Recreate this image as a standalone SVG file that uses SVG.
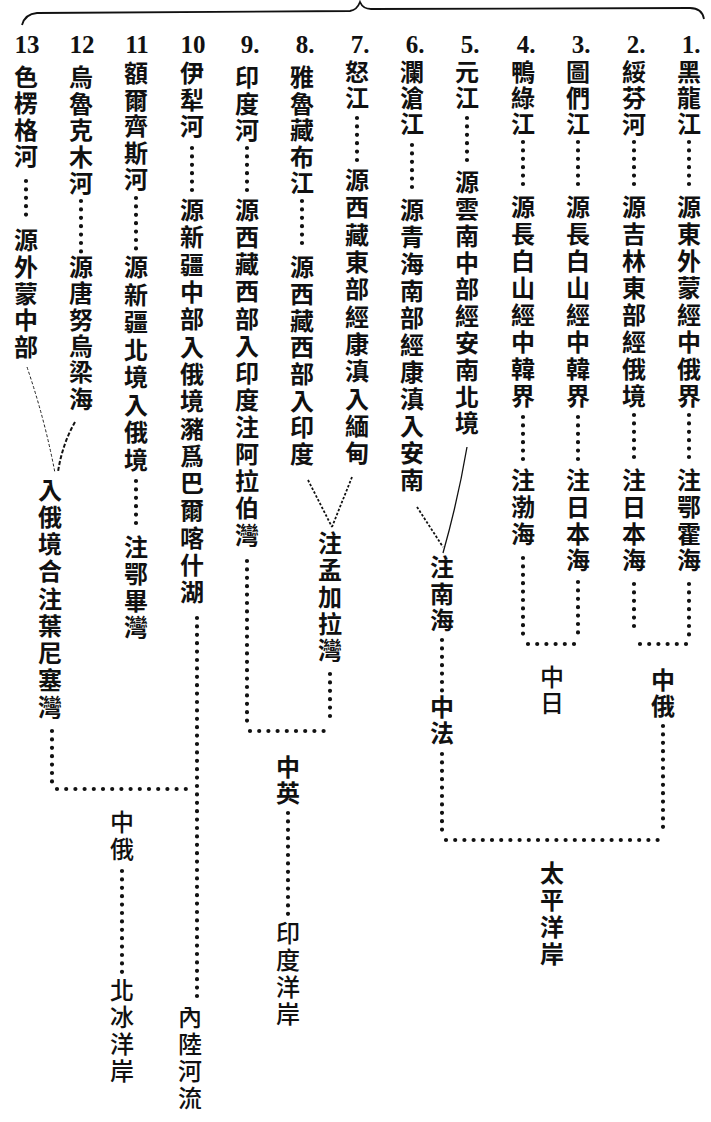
<svg xmlns="http://www.w3.org/2000/svg" width="711" height="1122" viewBox="0 0 711 1122">
<style>
.v{writing-mode:vertical-rl;font-family:"Noto Sans CJK TC","Noto Sans CJK SC",sans-serif;font-size:24px;font-weight:700;fill:#111;}
.l{font-weight:500;}
.n{font-family:"Liberation Serif",serif;font-size:25px;font-weight:700;fill:#111;text-anchor:middle;}
.d{fill:none;stroke:#111;stroke-width:4.2;stroke-linecap:round;stroke-dasharray:0 8.4;}
.dh{fill:none;stroke:#111;stroke-width:4.2;stroke-linecap:round;stroke-dasharray:0 9.2;}
.thin{fill:none;stroke:#222;stroke-width:1;stroke-dasharray:3 2;}
.dash{fill:none;stroke:#111;stroke-width:2;stroke-dasharray:4 2;}
.dot2{fill:none;stroke:#111;stroke-width:1.8;stroke-dasharray:2.5 1.8;}
.solid{fill:none;stroke:#111;stroke-width:1.3;}
.brace{fill:none;stroke:#111;stroke-width:1.8;}
</style>
<rect width="711" height="1122" fill="#fff"/>
<path class="brace" d="M22,25 Q25,14 37,13 L350,11 Q357,10 360,2 Q363,9 371,9 L690,8 Q702,8 704,19"/>
<g id="numbers">
<text class="n" x="27" y="53">13</text>
<text class="n" x="82" y="53">12</text>
<text class="n" x="137" y="53">11</text>
<text class="n" x="193" y="53">10</text>
<text class="n" x="250" y="53">9.</text>
<text class="n" x="305" y="53">8.</text>
<text class="n" x="360" y="53">7.</text>
<text class="n" x="415" y="53">6.</text>
<text class="n" x="470" y="53">5.</text>
<text class="n" x="526" y="53">4.</text>
<text class="n" x="581" y="53">3.</text>
<text class="n" x="636" y="53">2.</text>
<text class="n" x="691" y="53">1.</text>
</g>
<g id="col1">
<text class="v" x="689" y="60" letter-spacing="2">黑龍江</text>
<text class="v" x="689" y="195" letter-spacing="3">源東外蒙經中俄界</text>
<text class="v" x="689" y="468" letter-spacing="2.7">注鄂霍海</text>
</g>
<g id="col2">
<text class="v" x="634" y="60" letter-spacing="2">綏芬河</text>
<text class="v" x="634" y="195" letter-spacing="3">源吉林東部經俄境</text>
<text class="v" x="634" y="468" letter-spacing="2.7">注日本海</text>
</g>
<g id="col3">
<text class="v" x="578" y="60" letter-spacing="2">圖們江</text>
<text class="v" x="578" y="195" letter-spacing="3">源長白山經中韓界</text>
<text class="v" x="578" y="468" letter-spacing="2.7">注日本海</text>
</g>
<g id="col4">
<text class="v" x="523" y="60" letter-spacing="2">鴨綠江</text>
<text class="v" x="523" y="195" letter-spacing="3">源長白山經中韓界</text>
<text class="v" x="523" y="468" letter-spacing="2.7">注渤海</text>
</g>
<g id="col5">
<text class="v" x="467" y="60" letter-spacing="2">元江</text>
<text class="v" x="467" y="170" letter-spacing="2.8">源雲南中部經安南北境</text>
</g>
<g id="col6">
<text class="v" x="412" y="60" letter-spacing="2">瀾滄江</text>
<text class="v" x="412" y="198" letter-spacing="3">源青海南部經康滇入安南</text>
</g>
<g id="nanhai">
<text class="v" x="442" y="555" letter-spacing="2.5">注南海</text>
</g>
<g id="zhongfa">
<text class="v" x="442" y="695" letter-spacing="2">中法</text>
</g>
<g id="col7">
<text class="v" x="357" y="60" letter-spacing="2">怒江</text>
<text class="v" x="357" y="168" letter-spacing="3.3">源西藏東部經康滇入緬甸</text>
</g>
<g id="col8">
<text class="v" x="302" y="65" letter-spacing="2.5">雅魯藏布江</text>
<text class="v" x="302" y="255" letter-spacing="2.7">源西藏西部入印度</text>
</g>
<g id="bengal">
<text class="v" x="330" y="531" letter-spacing="2.8">注孟加拉灣</text>
</g>
<g id="col9">
<text class="v" x="247" y="65" letter-spacing="2.5">印度河</text>
<text class="v" x="247" y="198" letter-spacing="3.1">源西藏西部入印度注阿拉伯灣</text>
</g>
<g id="zhongying">
<text class="v" x="288" y="755" letter-spacing="2">中英</text>
</g>
<g id="indian">
<text class="v l" x="288" y="921" letter-spacing="3">印度洋岸</text>
</g>
<g id="col10">
<text class="v" x="192" y="61" letter-spacing="2.5">伊犁河</text>
<text class="v" x="192" y="198" letter-spacing="3.3">源新疆中部入俄境瀦爲巴爾喀什湖</text>
</g>
<g id="inland">
<text class="v l" x="190" y="1005" letter-spacing="3">內陸河流</text>
</g>
<g id="col11">
<text class="v" x="136" y="61" letter-spacing="2.5">額爾齊斯河</text>
<text class="v" x="136" y="255" letter-spacing="3.5">源新疆北境入俄境</text>
<text class="v" x="136" y="535" letter-spacing="2.7">注鄂畢灣</text>
</g>
<g id="col12">
<text class="v" x="81" y="65" letter-spacing="2.5">烏魯克木河</text>
<text class="v" x="81" y="255" letter-spacing="2.3">源唐努烏梁海</text>
</g>
<g id="col13">
<text class="v" x="26" y="65" letter-spacing="2.3">色楞格河</text>
<text class="v" x="26" y="228" letter-spacing="2.7">源外蒙中部</text>
</g>
<g id="yenisei">
<text class="v" x="50" y="478" letter-spacing="3.1">入俄境合注葉尼塞灣</text>
</g>
<g id="zhonge-left">
<text class="v l" x="122" y="810" letter-spacing="3">中俄</text>
</g>
<g id="arctic">
<text class="v l" x="122" y="978" letter-spacing="3">北冰洋岸</text>
</g>
<g id="zhonge-right">
<text class="v" x="663" y="668" letter-spacing="2">中俄</text>
</g>
<g id="zhongri">
<text class="v l" x="552" y="665" letter-spacing="2">中日</text>
</g>
<g id="pacific">
<text class="v" x="552" y="861" letter-spacing="3">太平洋岸</text>
</g>
<g id="connectors">
<path class="d" d="M689,142 V190 M689,415 V463 M689,584 V636"/>
<path class="d" d="M634,142 V190 M634,415 V463 M634,584 V634"/>
<path class="dh" d="M640,644 H687"/>
<path class="d" d="M663,726 V830"/>
<path class="d" d="M578,142 V190 M578,417 V463 M578,582 V634"/>
<path class="d" d="M523,142 V190 M523,417 V463 M523,558 V634"/>
<path class="dh" d="M528,644 H578"/>
<path class="d" d="M467,118 V166"/>
<path class="solid" d="M467,447 Q458,500 443,553"/>
<path class="d" d="M412,145 V193"/>
<path class="dot2" d="M417,507 L443,547"/>
<path class="d" d="M442,640 V692 M442,754 V834"/>
<path class="dh" d="M446,840 H663"/>
<path class="d" d="M357,118 V164"/>
<path class="dot2" d="M352,477 L332,527"/>
<path class="dot2" d="M308,480 L332,527"/>
<path class="d" d="M302,201 V247"/>
<path class="d" d="M330,674 V724"/>
<path class="d" d="M247,148 V193 M247,561 V724"/>
<path class="dh" d="M250,731 H330"/>
<path class="d" d="M288,813 V917"/>
<path class="d" d="M192,148 V193 M197,618 V1000"/>
<path class="d" d="M136,198 V250 M136,481 V527"/>
<path class="d" d="M81,201 V253"/>
<path class="dash" d="M75,422 Q62,445 58,472"/>
<path class="d" d="M26,181 V222"/>
<path class="thin" d="M27,367 Q45,420 55,473"/>
<path class="d" d="M52,731 V784"/>
<path class="dh" d="M57,789 H187"/>
<path class="d" d="M122,871 V972"/>
</g>
</svg>
